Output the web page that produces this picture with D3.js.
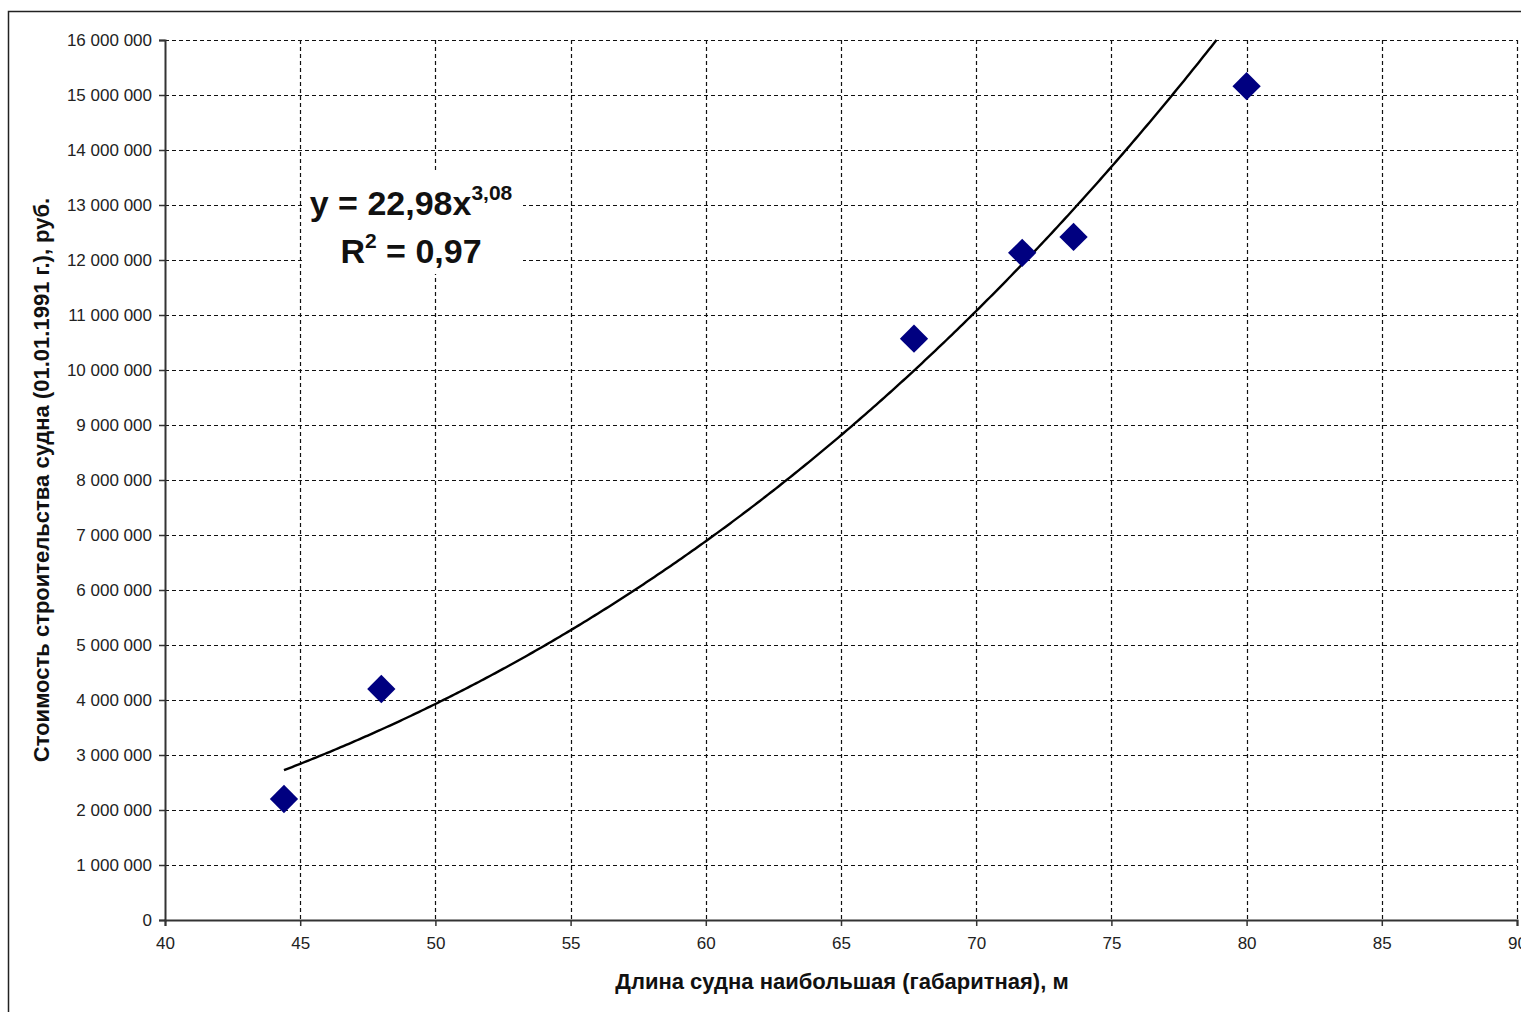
<!DOCTYPE html>
<html><head><meta charset="utf-8">
<script src="https://cdn.jsdelivr.net/npm/d3@7"></script>
<style>html,body{margin:0;padding:0;background:#fff;}svg{display:block;}</style>
</head><body>
<script>
const lengths = [44.4, 48.0, 67.7, 71.7, 73.6, 80.0];
const costs = [2200000, 4200000, 10570000, 12130000, 12420000, 15160000];
const xTicks = [40, 45, 50, 55, 60, 65, 70, 75, 80, 85, 90];
const yTicks = [0,1e6,2e6,3e6,4e6,5e6,6e6,7e6,8e6,9e6,10e6,11e6,12e6,13e6,14e6,15e6,16e6];
const trendCoef = 22.98, trendExp = 3.08;
const xTitle = "Длина судна наибольшая (габаритная), м";
const yTitle = "Стоимость строительства судна (01.01.1991 г.), руб.";

const W = 1521, H = 1012;
const svg = d3.select("body").append("svg").attr("width", W).attr("height", H);
const L = 165, R = 1517, T = 40, B = 920;
const x = d3.scaleLinear().domain([40, 90]).range([L, R]);
const y = d3.scaleLinear().domain([0, 16e6]).range([B, T]);
const font = "'Liberation Sans', Arial, sans-serif";

// outer border
svg.append("rect").attr("x", 8.5).attr("y", 11.5).attr("width", W).attr("height", H)
  .attr("fill", "none").attr("stroke", "#222").attr("stroke-width", 1.5);

// grid
const g = svg.append("g");
g.selectAll("line.hg").data(yTicks.filter(d => d > 0)).join("line")
  .attr("x1", L).attr("x2", R).attr("y1", d => Math.round(y(d)) + 0.5).attr("y2", d => Math.round(y(d)) + 0.5)
  .attr("stroke", "#111").attr("stroke-dasharray", "4,3").attr("stroke-width", 1.2);
g.selectAll("line.vg").data(xTicks.filter(d => d > 40)).join("line")
  .attr("y1", T).attr("y2", B).attr("x1", d => Math.round(x(d)) + 0.5).attr("x2", d => Math.round(x(d)) + 0.5)
  .attr("stroke", "#111").attr("stroke-dasharray", "4,3").attr("stroke-width", 1.2);

// axes
const fmt = d => d3.format(",")(d).replace(/,/g, " ");
const yAxis = svg.append("g").attr("transform", `translate(${L},0)`)
  .call(d3.axisLeft(y).tickValues(yTicks).tickFormat(fmt).tickSize(6).tickPadding(7));
const xAxis = svg.append("g").attr("transform", `translate(0,${B})`)
  .call(d3.axisBottom(x).tickValues(xTicks).tickSize(6).tickPadding(11));
[yAxis, xAxis].forEach(a => {
  a.select(".domain").attr("stroke", "#333").attr("stroke-width", 2);
  a.selectAll(".tick line").attr("stroke", "#333").attr("stroke-width", 1.5);
  a.selectAll("text").attr("font-family", font).attr("font-size", 17).attr("fill", "#222");
});

// equation box
const eq = svg.append("g");
eq.append("rect").attr("x", 303).attr("y", 172).attr("width", 220).attr("height", 102).attr("fill", "#fff");
const t1 = eq.append("text").attr("x", 411).attr("y", 215).attr("text-anchor", "middle")
  .attr("font-family", font).attr("font-weight", "bold").attr("font-size", 34).attr("fill", "#111");
t1.append("tspan").text("y = 22,98x");
t1.append("tspan").attr("dy", -15).attr("font-size", 21).text("3,08");
const t2 = eq.append("text").attr("x", 411).attr("y", 263).attr("text-anchor", "middle")
  .attr("font-family", font).attr("font-weight", "bold").attr("font-size", 34).attr("fill", "#111");
t2.append("tspan").text("R");
t2.append("tspan").attr("dy", -15).attr("font-size", 21).text("2");
t2.append("tspan").attr("dy", 15).text(" = 0,97");

// trendline
const xMin = d3.min(lengths);
const xs = d3.range(xMin, 80.01, 0.1).filter(v => trendCoef * Math.pow(v, trendExp) <= 16e6);
const xEnd = Math.pow(16e6 / trendCoef, 1 / trendExp);
xs.push(xEnd);
svg.append("path").datum(xs)
  .attr("d", d3.line().x(d => x(d)).y(d => y(trendCoef * Math.pow(d, trendExp))))
  .attr("fill", "none").attr("stroke", "#000").attr("stroke-width", 2.4);

// points
svg.selectAll("path.pt").data(lengths).join("path")
  .attr("d", d3.symbol().type(d3.symbolSquare).size(400))
  .attr("transform", (d, i) => `translate(${x(d)},${y(costs[i])}) rotate(45)`)
  .attr("fill", "#000080");

// titles
svg.append("text").attr("x", 842).attr("y", 989).attr("text-anchor", "middle")
  .attr("font-family", font).attr("font-weight", "bold").attr("font-size", 22).attr("fill", "#111").text(xTitle);
svg.append("text").attr("transform", "translate(49,480) rotate(-90)").attr("text-anchor", "middle")
  .attr("font-family", font).attr("font-weight", "bold").attr("font-size", 22).attr("fill", "#111").text(yTitle);
</script>
</body></html>
